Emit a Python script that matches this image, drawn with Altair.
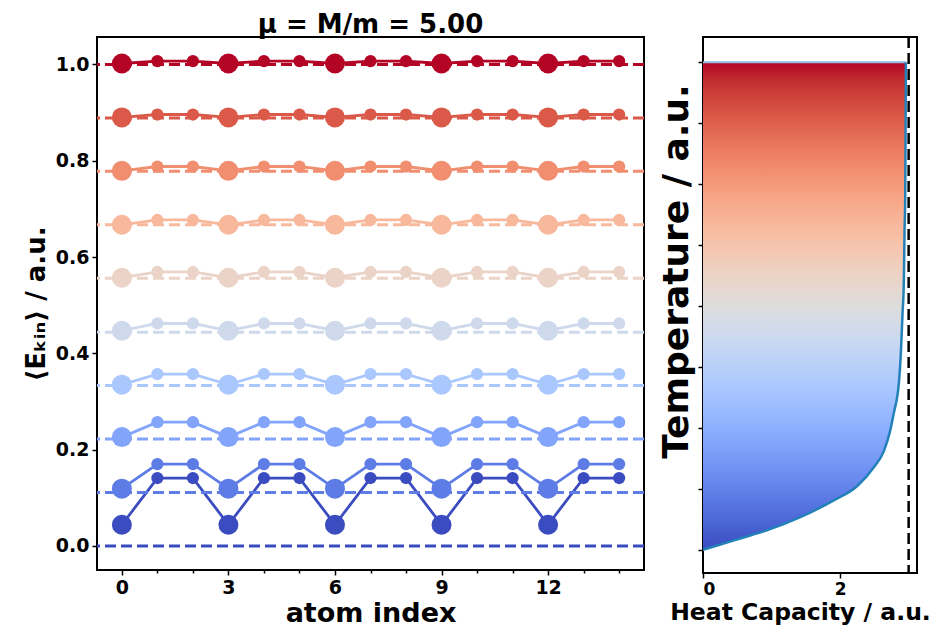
import altair as alt
import pandas as pd

# ---------------- data ----------------
atom_index = list(range(15))
heavy_period = 3
series_keys = ["T0", "T1", "T2", "T3", "T4", "T5", "T6", "T7", "T8", "T9"]
levels = [0.000, 0.111, 0.222, 0.333, 0.444, 0.556, 0.667, 0.778, 0.889, 1.000]
E_heavy = [0.044, 0.119, 0.226, 0.335, 0.447, 0.557, 0.667, 0.779, 0.890, 1.002]
E_light = [0.141, 0.170, 0.257, 0.357, 0.462, 0.569, 0.677, 0.788, 0.896, 1.007]
series_colors = ["#3b4cc0", "#5d7ce6", "#82a5fb", "#aac7fe", "#ced9ec",
                 "#ebd4c7", "#f7b89c", "#f18e70", "#da5948", "#b40426"]

T_curve = [0.000, 0.010, 0.019, 0.030, 0.040, 0.067, 0.101, 0.131, 0.169, 0.203,
           0.244, 0.278, 0.346, 0.414, 0.482, 0.550, 0.652, 0.720, 0.850, 1.000]
C_curve = [0.000, 0.230, 0.440, 0.700, 0.930, 1.420, 1.900, 2.250, 2.490, 2.640,
           2.730, 2.780, 2.860, 2.890, 2.910, 2.930, 2.940, 2.950, 2.955, 2.960]
C_classical = [3.0]
T_ticks = [0, 0.125, 0.25, 0.375, 0.5, 0.625, 0.75, 0.875, 1.0]
C_ticks = [0, 2]
y_ticks = [0.0, 0.2, 0.4, 0.6, 0.8, 1.0]

coolwarm_stops = ["#3b4cc0", "#445acc", "#4d68d7", "#5775e1", "#6282ea", "#6c8ef1",
                  "#779af7", "#82a5fb", "#8db0fe", "#98b9ff", "#a3c2ff", "#aec9fd",
                  "#b8d0f9", "#c2d5f4", "#ccd9ee", "#d5dbe6", "#dddddd", "#e5d8d1",
                  "#ecd3c5", "#f1ccb9", "#f5c4ad", "#f7bba0", "#f7b194", "#f7a687",
                  "#f49a7b", "#f18d6f", "#ec7f63", "#e57058", "#de604d", "#d55042",
                  "#cb3e38", "#c0282f", "#b40426"]

# ---------------- tables ----------------
rows = []
for s, key in enumerate(series_keys):
    for i in atom_index:
        heavy = (i % heavy_period == 0)
        rows.append({"series": key, "atom": i,
                     "E": E_heavy[s] if heavy else E_light[s],
                     "kind": "M" if heavy else "m"})
df = pd.DataFrame(rows)
df_levels = pd.DataFrame({"series": series_keys, "E": levels})
df_curve = pd.DataFrame({"T": T_curve, "C": C_curve})
df_top = pd.DataFrame({"C0": [0.0], "C1": [C_curve[-1]], "T": [T_curve[-1]]})
df_class = pd.DataFrame({"C": C_classical})

FONT = "DejaVu Sans"

# ---------------- left panel ----------------
xs = alt.Scale(domain=[-0.7, 14.7], nice=False, zero=False)
ys = alt.Scale(domain=[-0.05, 1.057], nice=False, zero=False)
color = alt.Color("series:N", scale=alt.Scale(domain=series_keys, range=series_colors), legend=None)

x_axis = alt.Axis(values=atom_index, title="atom index",
                  labelExpr="datum.value % 3 === 0 ? datum.label : ''",
                  tickSize={"condition": {"test": "datum.value % 3 === 0", "value": 5}, "value": 3},
                  labelFontSize=19, titleFontSize=27, labelPadding=3, titlePadding=3)
y_axis = alt.Axis(values=y_ticks, format=".1f", title="⟨Eₖᵢₙ⟩ / a.u.",
                  tickSize=5, labelFontSize=19, titleFontSize=26, labelPadding=3, titlePadding=6)

rules = alt.Chart(df_levels).mark_rule(strokeDash=[11, 5], strokeWidth=3).encode(
    y=alt.Y("E:Q", scale=ys, axis=y_axis), color=color)
lines = alt.Chart(df).mark_line(strokeWidth=2.8).encode(
    x=alt.X("atom:Q", scale=xs, axis=x_axis),
    y=alt.Y("E:Q", scale=ys, axis=y_axis), color=color, detail="series:N")
points = alt.Chart(df).mark_circle(opacity=1).encode(
    x=alt.X("atom:Q", scale=xs, axis=x_axis),
    y=alt.Y("E:Q", scale=ys, axis=y_axis), color=color,
    size=alt.Size("kind:N", scale=alt.Scale(domain=["M", "m"], range=[400, 150]), legend=None))

left = alt.layer(lines, points, rules).properties(
    width=547, height=533,
    title=alt.TitleParams("μ = M/m = 5.00", fontSize=26, font=FONT, fontWeight="bold",
                          anchor="middle", offset=-1, color="black"))

# ---------------- right panel ----------------
cs = alt.Scale(domain=[0, 3.122], nice=False, zero=False)
ts = alt.Scale(domain=[-0.0475, 1.052], nice=False, zero=False)
cx_axis = alt.Axis(values=C_ticks, format="d", title="Heat Capacity / a.u.", tickSize=5,
                   labelFontSize=17, titleFontSize=23.5, labelPadding=3, titlePadding=3,
                   titleX=97)
ty_axis = alt.Axis(values=T_ticks, labels=False, title="Temperature / a.u.", tickSize=5,
                   titleFontSize=36, titlePadding=2, titleY=234)

grad = alt.Gradient(gradient="linear",
                    stops=[alt.GradientStop(color=c, offset=k / (len(coolwarm_stops) - 1))
                           for k, c in enumerate(coolwarm_stops)],
                    x1=0, x2=0, y1=1, y2=0)

area = alt.Chart(df_curve).mark_area(orient="horizontal", fill=grad, strokeWidth=0,
                                     interpolate="monotone").encode(
    x=alt.X("C:Q", scale=cs, axis=cx_axis, stack=None),
    x2=alt.datum(0),
    y=alt.Y("T:Q", scale=ts, axis=ty_axis))
top_edge = alt.Chart(df_top).mark_rule(color="#8fbbe0", strokeWidth=2).encode(
    x=alt.X("C0:Q", scale=cs), x2="C1:Q", y=alt.Y("T:Q", scale=ts))
curve = alt.Chart(df_curve).mark_line(color="#2381ba", strokeWidth=2.5, interpolate="monotone").encode(
    x=alt.X("C:Q", scale=cs), y=alt.Y("T:Q", scale=ts), order="T:Q")
classical = alt.Chart(df_class).mark_rule(color="black", strokeDash=[11, 5], strokeWidth=2.5).encode(
    x=alt.X("C:Q", scale=cs))

right = alt.layer(area, top_edge, curve, classical).properties(width=214, height=536)

chart = alt.hconcat(left, right, spacing=10).properties(
    padding={"left": 14, "top": 3, "right": 0, "bottom": 0}
).configure_view(stroke="black", strokeWidth=2).configure_axis(
    labelFont=FONT, titleFont=FONT, labelFontWeight="bold", titleFontWeight="bold",
    labelColor="black", titleColor="black", grid=False, domain=False,
    tickColor="black", tickWidth=1.5)

chart.save("out.html", embed_options={"renderer": "svg", "actions": False})
